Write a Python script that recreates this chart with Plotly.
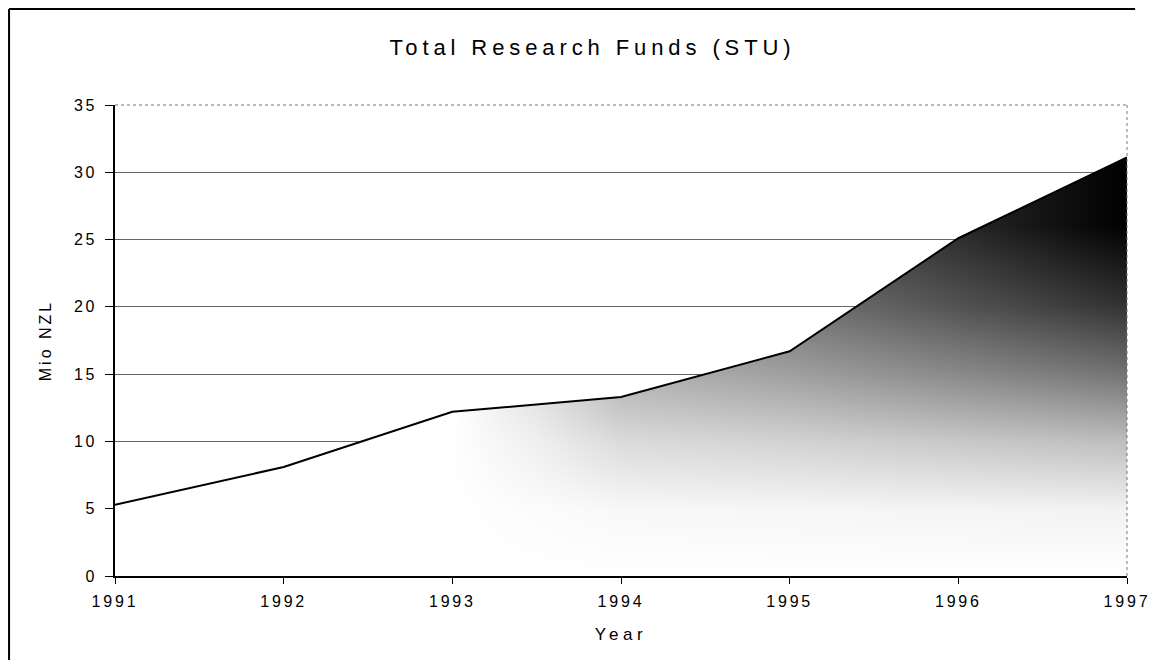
import plotly.graph_objects as go

years = [1991, 1992, 1993, 1994, 1995, 1996, 1997]
funds = [5.3, 8.1, 12.2, 13.3, 16.7, 25.1, 31.1]
y_ticks = [0, 5, 10, 15, 20, 25, 30, 35]
title_text = "Total Research Funds (STU)"
x_title = "Year"
y_title = "Mio NZL"

FONT = "Liberation Sans, Arial, sans-serif"


def spaced(txt, px):
    return f'<span style="letter-spacing:{px}px">{txt}</span>'


fig = go.Figure()
# base fill: darkens from left to right
fig.add_trace(go.Scatter(
    x=years, y=funds, mode="none", fill="tozeroy",
    fillgradient=dict(
        type="horizontal", start=years[0], stop=years[-1],
        colorscale=[[0, "#ffffff"], [0.333, "#ffffff"], [0.417, "#c0c0c0"],
                    [0.5, "#707070"], [0.667, "#505050"], [0.833, "#282828"],
                    [1, "#000000"]],
    ),
    hoverinfo="skip", showlegend=False,
))
# white veil: lightens towards the bottom
fig.add_trace(go.Scatter(
    x=years, y=funds, mode="none", fill="tozeroy",
    fillgradient=dict(
        type="vertical", start=0, stop=26,
        colorscale=[[0, "rgba(255,255,255,1)"], [0.19, "rgba(255,255,255,0.95)"],
                    [0.38, "rgba(255,255,255,0.75)"], [0.58, "rgba(255,255,255,0.45)"],
                    [0.77, "rgba(255,255,255,0.2)"], [1, "rgba(255,255,255,0)"]],
    ),
    hoverinfo="skip", showlegend=False,
))
# outline
fig.add_trace(go.Scatter(
    x=years, y=funds, mode="lines",
    line=dict(color="black", width=2),
    hoverinfo="x+y", showlegend=False,
))

# outer frame (top and left lines)
fig.add_shape(type="line", xref="paper", yref="paper",
              x0=-0.1047, x1=1.008, y0=1.204, y1=1.204,
              line=dict(color="black", width=2), layer="above")
fig.add_shape(type="line", xref="paper", yref="paper",
              x0=-0.1047, x1=-0.1047, y0=1.204, y1=-0.25,
              line=dict(color="black", width=2), layer="above")
# dotted top and right border of plot area
fig.add_shape(type="line", xref="paper", yref="paper",
              x0=0, x1=1, y0=1, y1=1,
              line=dict(color="#777", width=1, dash="dot"))
fig.add_shape(type="line", xref="paper", yref="paper",
              x0=1, x1=1, y0=0, y1=1,
              line=dict(color="#777", width=1, dash="dot"))

fig.update_layout(
    width=1162, height=660,
    margin=dict(l=107, r=43, t=97, b=92),
    paper_bgcolor="white", plot_bgcolor="white",
    font=dict(family=FONT, color="black", size=16),
    title=dict(text=spaced(title_text, 4.9), x=0.503, xanchor="center",
               y=0.941, yanchor="middle",
               font=dict(size=22, family=FONT)),
    xaxis=dict(
        range=[years[0], years[-1]], tickmode="array", tickvals=years,
        ticktext=[spaced(str(y), 2.8) for y in years],
        showgrid=False, showline=True, linecolor="black", linewidth=2,
        ticks="outside", ticklen=6, tickcolor="black", ticklabelstandoff=4,
        title=dict(text=spaced(x_title, 4.5), font=dict(size=17), standoff=19),
        tickfont=dict(size=16), zeroline=False,
    ),
    yaxis=dict(
        range=[0, 35], tickmode="array", tickvals=y_ticks,
        ticktext=[spaced(str(v), 2.5) for v in y_ticks],
        showgrid=True, gridcolor="#666", gridwidth=1,
        showline=True, linecolor="black", linewidth=2,
        ticks="outside", ticklen=8, tickcolor="black", ticklabelstandoff=5,
        title=dict(text=spaced(y_title, 3), font=dict(size=16), standoff=18),
        tickfont=dict(size=16), zeroline=False,
    ),
)

fig.write_html("out.html")
